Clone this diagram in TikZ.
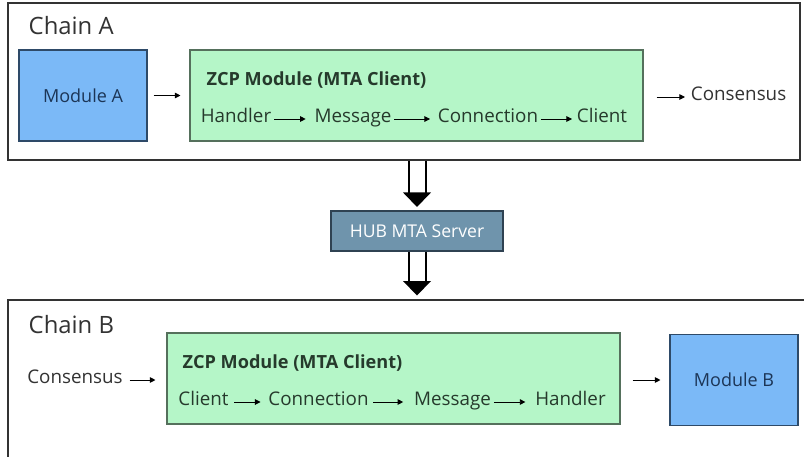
\documentclass[tikz,border=0pt]{standalone}
\usepackage{fontspec}
\setmainfont{Open Sans}
\usetikzlibrary{fit,calc,arrows.meta}
\definecolor{frame}{HTML}{333333}
\definecolor{modblue}{HTML}{7BB9F7}
\definecolor{modedge}{HTML}{2E4A68}
\definecolor{modtext}{HTML}{1C3556}
\definecolor{zcpgreen}{HTML}{B5F6C8}
\definecolor{zcpedge}{HTML}{55705C}
\definecolor{zcptext}{HTML}{263A2C}
\definecolor{hubblue}{HTML}{6F94AC}
\definecolor{hubedge}{HTML}{2F4252}
\definecolor{inktext}{HTML}{333333}
\tikzset{
  chainbox/.style={draw=frame, line width=1.5pt, inner sep=0pt},
  chainlabel/.style={anchor=base west, text=inktext, font=\fontsize{17.9}{20}\selectfont},
  modbox/.style={draw=modedge, fill=modblue, line width=0.8pt, text=modtext,
    minimum width=128*0.75pt, minimum height=91*0.75pt, font=\fontsize{13.5}{15}\selectfont},
  zcpbox/.style={draw=zcpedge, fill=zcpgreen, line width=0.8pt,
    minimum width=453*0.75pt, minimum height=91*0.75pt},
  zcptitle/.style={anchor=base west, text=zcptext, font=\bfseries\fontsize{13.6}{15}\selectfont},
  item/.style={anchor=mid, text=zcptext, inner sep=2pt, font=\fontsize{14.1}{16}\selectfont},
  plain/.style={anchor=mid, text=inktext, inner sep=2pt, font=\fontsize{14.1}{16}\selectfont},
  hubbox/.style={draw=hubedge, fill=hubblue, line width=0.8pt, text=white,
    minimum width=172*0.75pt, minimum height=40*0.75pt, font=\fontsize{13.2}{15}\selectfont},
  arr/.style={draw=black, line width=0.7pt, -{Triangle[length=4.2pt,width=4.2pt]}},
  shaft/.style={draw=black, line width=1.5pt},
}
% hollow double-shaft arrow with a solid head: #1 start, #2 tip target
\newcommand\hubarrow[2]{%
  \draw[shaft] ($(#1)+(-8.5,0)$) -- ($(#2)+(-8.5,-17)$);
  \draw[shaft] ($(#1)+(8.5,0)$) -- ($(#2)+(8.5,-17)$);
  \fill[black] ($(#2)+(-14,-18)$) -- ($(#2)+(14,-18)$) -- ($(#2)+(0,-3.5)$) -- cycle;
}
\begin{document}
\begin{tikzpicture}[x=0.75pt,y=-0.75pt]
\useasboundingbox (0,0) rectangle (804,457);
\fill[white] (0,0) rectangle (804,457);

% ---------- Chain A ----------
\node[chainbox, fit={(8,3) (800,160)}] (chainA) {};
\node[chainlabel] (labA) at (24,34) {Chain A};

\node[modbox] (modA) at (83,95.5) {Module A};
\node[zcpbox] (zcpA) at (416.5,95.5) {};
\node[zcptitle] (titA) at (202,85) {ZCP Module (MTA Client)};

\node[item] (hA) at (236,119) {Handler};
\node[item] (mA) at (353,119) {Message};
\node[item] (cnA) at (488,119) {Connection};
\node[item] (clA) at (602,119) {Client};

\node[plain, anchor=mid west] (consA) at (688,97) {Consensus};

\draw[arr, shorten <=6*0.75pt, shorten >=9*0.75pt] (modA.east) -- (modA.east -| zcpA.west);
\draw[arr, shorten >=6*0.75pt] (hA.mid east) -- (mA.mid west);
\draw[arr, shorten >=5*0.75pt] (mA.mid east) -- (cnA.mid west);
\draw[arr, shorten >=2*0.75pt] (cnA.mid east) -- (clA.mid west);
\draw[arr, shorten <=13*0.75pt, shorten >=3*0.75pt] (consA.mid west -| zcpA.east) -- (consA.mid west);

% ---------- HUB ----------
\node[hubbox] (hub) at (417,231) {HUB MTA Server};

% ---------- Chain B ----------
\node[chainbox, fit={(8,300) (812,470)}] (chainB) {};
\node[chainlabel] (labB) at (24,333) {Chain B};

\node[zcpbox] (zcpB) at (393.5,378.5) {};
\node[zcptitle] (titB) at (178,368) {ZCP Module (MTA Client)};

\node[item] (clB) at (203.5,402) {Client};
\node[item] (cnB) at (318.5,402) {Connection};
\node[item] (mB) at (452.5,402) {Message};
\node[item] (hB) at (570.5,402) {Handler};

\node[plain] (consB) at (75,380) {Consensus};
\node[modbox] (modB) at (734,380) {Module B};

\draw[arr, shorten <=4*0.75pt, shorten >=11*0.75pt] (consB.mid east) -- (consB.mid east -| zcpB.west);
\draw[arr, shorten <=3*0.75pt, shorten >=5*0.75pt] (clB.mid east) -- (cnB.mid west);
\draw[arr, shorten <=2*0.75pt, shorten >=8*0.75pt] (cnB.mid east) -- (mB.mid west);
\draw[arr, shorten >=7*0.75pt] (mB.mid east) -- (hB.mid west);
\draw[arr, shorten <=12*0.75pt, shorten >=9*0.75pt] (modB.west -| zcpB.east) -- (modB.west);

% ---------- hub links ----------
\coordinate (outA) at (chainA.south -| hub.north);
\coordinate (inB) at (chainB.north -| hub.south);
\hubarrow{outA}{hub.north}
\hubarrow{hub.south}{inB}
\end{tikzpicture}
\end{document}
